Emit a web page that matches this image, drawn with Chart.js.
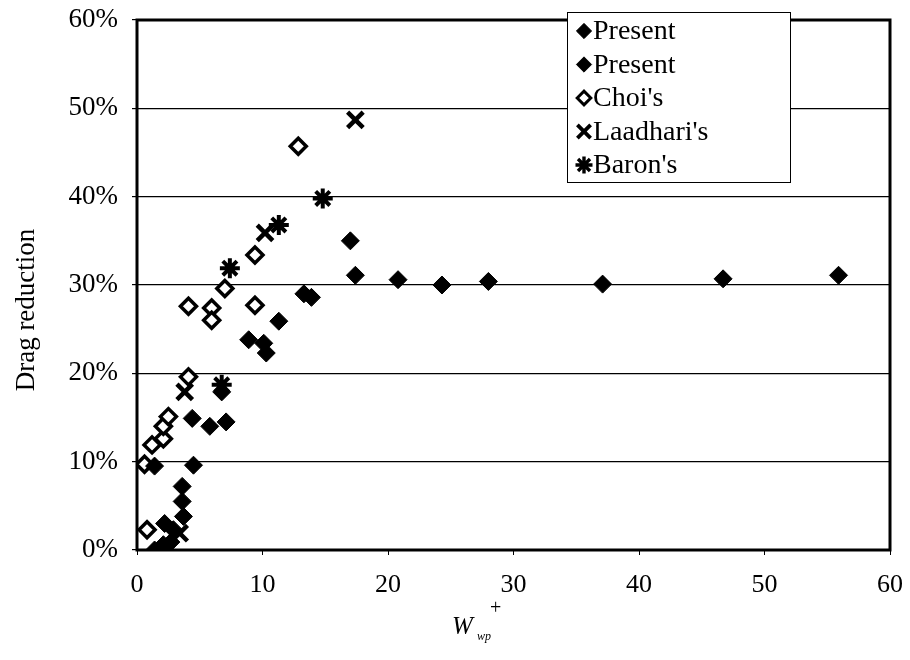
<!DOCTYPE html>
<html>
<head>
<meta charset="utf-8">
<script src="https://cdn.jsdelivr.net/npm/chart.js@4.4.0/dist/chart.umd.min.js"></script>
<style>
  body { margin: 0; background: #fff; }
  canvas { display: block; }
</style>
</head>
<body>
<canvas id="dragChart" width="910" height="660"></canvas>
<script>
// values (x = W_wp+, y = drag reduction in %)
const presentAx = [1.4, 2.1, 2.7, 2.2, 2.9, 3.7, 3.6, 3.6, 1.4, 4.5, 4.4, 5.8, 7.1, 6.75];
const presentAy = [0.0, 0.6, 0.9, 3.0, 2.3, 3.8, 5.5, 7.2, 9.5, 9.6, 14.9, 14.0, 14.5, 17.9];
const presentBx = [8.9, 10.1, 10.3, 11.3, 13.3, 13.9, 17.0, 17.4, 20.8, 24.3, 28.0, 37.1, 46.7, 55.9];
const presentBy = [23.8, 23.4, 22.3, 25.9, 29.0, 28.6, 35.0, 31.1, 30.6, 30.0, 30.4, 30.1, 30.7, 31.1];
const choiX = [0.8, 0.6, 1.2, 2.1, 2.1, 2.5, 4.1, 4.1, 5.95, 5.95, 7.0, 9.4, 9.4, 12.85];
const choiY = [2.3, 9.7, 11.9, 12.6, 14.0, 15.1, 19.6, 27.6, 27.4, 26.0, 29.6, 27.7, 33.4, 45.7];
const laadhariX = [3.4, 3.8, 10.2, 17.4];
const laadhariY = [1.9, 17.9, 35.9, 48.7];
const baronX = [6.75, 7.4, 11.3, 14.8];
const baronY = [18.7, 31.9, 36.8, 39.8];

const seriesNames = ['Present', 'Present', "Choi's", "Laadhari's", "Baron's"];
const xTicks = [0, 10, 20, 30, 40, 50, 60];
const yTicks = [0, 10, 20, 30, 40, 50, 60];

const serif = '"Liberation Serif", "DejaVu Serif", serif';
const pts = (xs, ys) => xs.map((x, i) => ({x: x, y: ys[i]}));

const styles = [
  {pointStyle: 'rectRot', radius: 9, borderWidth: 1, bg: '#000'},
  {pointStyle: 'rectRot', radius: 9, borderWidth: 1, bg: '#000'},
  {pointStyle: 'rectRot', radius: 8, borderWidth: 3.5, bg: '#fff'},
  {pointStyle: 'crossRot', radius: 11, borderWidth: 4.5, bg: '#000'},
  {pointStyle: 'star', radius: 10, borderWidth: 4, bg: '#000'}
];
const allData = [
  pts(presentAx, presentAy),
  pts(presentBx, presentBy),
  pts(choiX, choiY),
  pts(laadhariX, laadhariY),
  pts(baronX, baronY)
];

const datasets = allData.map((d, i) => ({
  label: seriesNames[i],
  data: d,
  showLine: false,
  pointStyle: styles[i].pointStyle,
  pointRadius: styles[i].radius,
  pointHoverRadius: styles[i].radius,
  pointBorderWidth: styles[i].borderWidth,
  pointBackgroundColor: styles[i].bg,
  pointBorderColor: '#000'
}));

// thick frame round the plot
const frame = {
  id: 'frame',
  afterDatasetsDraw(chart) {
    const a = chart.chartArea, ctx = chart.ctx;
    ctx.save();
    ctx.strokeStyle = '#000';
    ctx.lineWidth = 3;
    ctx.strokeRect(a.left, a.top, a.right - a.left, a.bottom - a.top);
    ctx.restore();
  }
};

// boxed legend sitting over the top right corner
const boxLegend = {
  id: 'boxLegend',
  afterDraw(chart) {
    const ctx = chart.ctx;
    const bx = 567, by = 12, bw = 223, bh = 170;
    ctx.save();
    ctx.fillStyle = '#fff';
    ctx.fillRect(bx, by, bw, bh);
    ctx.strokeStyle = '#000';
    ctx.lineWidth = 1;
    ctx.strokeRect(bx + 0.5, by + 0.5, bw, bh);
    ctx.font = '28px ' + serif;
    ctx.textBaseline = 'middle';
    seriesNames.forEach((name, i) => {
      const y = by + 19 + i * 33.5;
      const s = styles[i];
      ctx.fillStyle = s.bg;
      ctx.strokeStyle = '#000';
      ctx.lineWidth = s.borderWidth * 0.85;
      Chart.helpers.drawPoint(ctx, {
        pointStyle: s.pointStyle,
        radius: s.radius * 0.85,
        rotation: 0,
        borderWidth: s.borderWidth * 0.85
      }, bx + 17, y);
      ctx.fillStyle = '#000';
      ctx.fillText(name, bx + 26, y + 1);
    });
    ctx.restore();
  }
};

// axis titles: rotated y title, and W with subscript wp and superscript +
const axisTitles = {
  id: 'axisTitles',
  afterDraw(chart) {
    const ctx = chart.ctx;
    ctx.save();
    ctx.fillStyle = '#000';
    ctx.translate(27, 310);
    ctx.rotate(-Math.PI / 2);
    ctx.font = '27px ' + serif;
    ctx.textAlign = 'center';
    ctx.textBaseline = 'middle';
    ctx.fillText('Drag reduction', 0, 0);
    ctx.restore();

    ctx.save();
    ctx.fillStyle = '#000';
    ctx.textBaseline = 'alphabetic';
    ctx.font = 'italic 25px ' + serif;
    ctx.fillText('W', 452, 634);
    ctx.font = 'italic 12px ' + serif;
    ctx.fillText('wp', 477, 640);
    ctx.font = '20px ' + serif;
    ctx.fillText('+', 490, 614);
    ctx.restore();
  }
};

const ctx = document.getElementById('dragChart').getContext('2d');
const dragChart = new Chart(ctx, {
  type: 'scatter',
  data: { datasets: datasets },
  options: {
    responsive: false,
    animation: false,
    devicePixelRatio: 1,
    layout: { padding: { top: 20, right: 20, left: 0, bottom: 0 } },
    plugins: {
      legend: { display: false },
      tooltip: { enabled: false }
    },
    scales: {
      x: {
        type: 'linear',
        min: 0,
        max: 60,
        afterFit(scale) {
          scale.height = 110;
          scale.paddingLeft = 0;
          scale.paddingRight = 0;
        },
        afterBuildTicks(scale) { scale.ticks = xTicks.map(v => ({value: v})); },
        grid: { drawOnChartArea: false, color: '#000', tickLength: 5, lineWidth: 1 },
        border: { display: false },
        ticks: {
          color: '#000',
          font: { family: serif, size: 26 },
          padding: 15,
          maxRotation: 0
        }
      },
      y: {
        type: 'linear',
        min: 0,
        max: 60,
        afterFit(scale) {
          scale.width = 137;
          scale.paddingTop = 0;
          scale.paddingBottom = 0;
        },
        afterBuildTicks(scale) { scale.ticks = yTicks.map(v => ({value: v})); },
        grid: { color: '#000', tickLength: 5, lineWidth: 1.2 },
        border: { display: false },
        ticks: {
          color: '#000',
          font: { family: serif, size: 27 },
          padding: 14,
          callback: v => v + '%'
        }
      }
    }
  },
  plugins: [frame, boxLegend, axisTitles]
});
</script>
</body>
</html>
